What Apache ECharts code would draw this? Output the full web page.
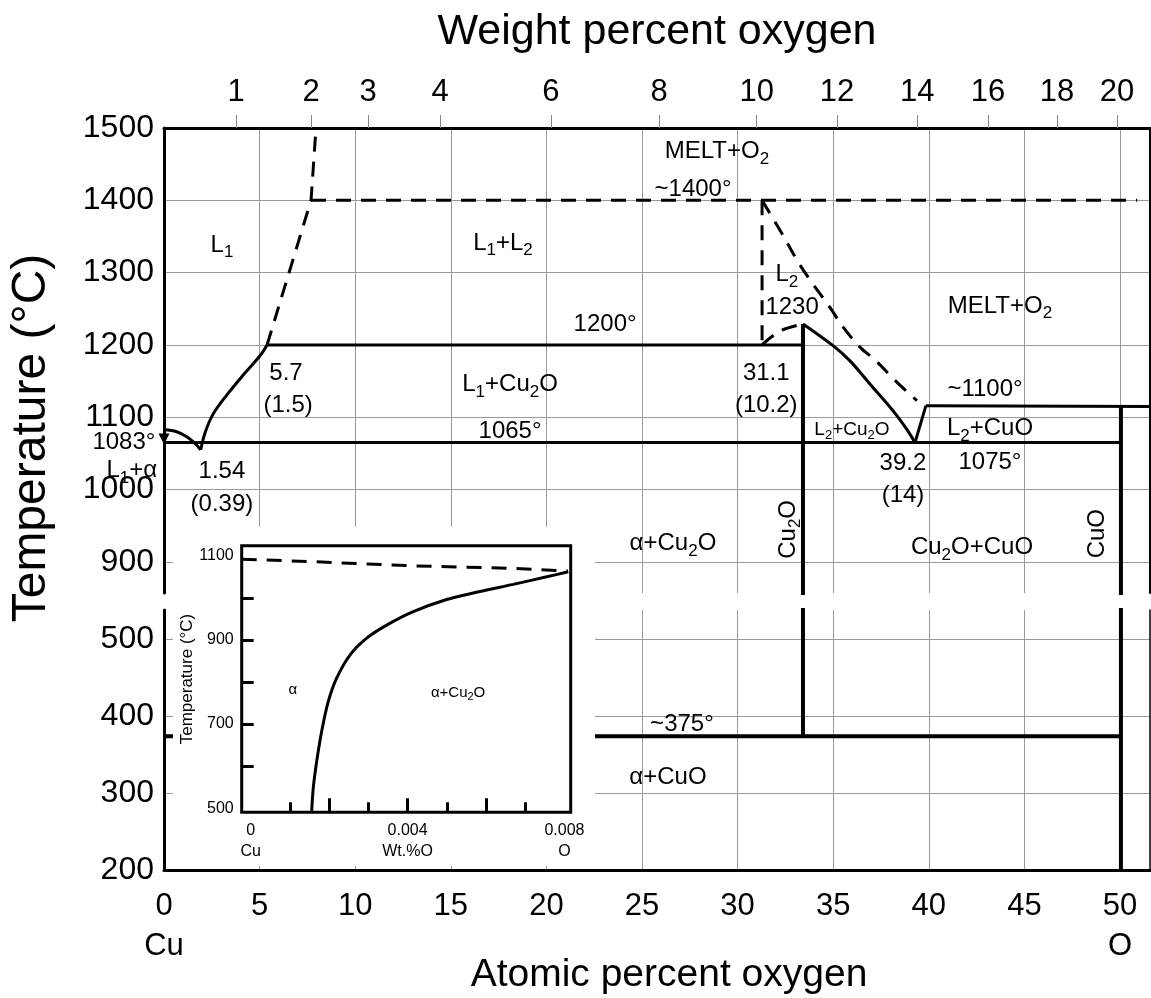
<!DOCTYPE html>
<html>
<head>
<meta charset="utf-8">
<script src="https://cdn.jsdelivr.net/npm/echarts@6/dist/echarts.min.js"></script>
<style>
  html, body { margin: 0; padding: 0; background: #fff; }
  #main { width: 1151px; height: 998px; }
</style>
</head>
<body>
<div id="main"></div>
<script>
// ---- axes ----
const atTicks = [0, 5, 10, 15, 20, 25, 30, 35, 40, 45, 50];
const wtLabels = ['1', '2', '3', '4', '6', '8', '10', '12', '14', '16', '18', '20'];
const wtPos = [3.77, 7.69, 10.67, 14.44, 20.24, 25.89, 31.0, 35.2, 39.4, 43.1, 46.7, 49.84]; // at.% where each wt.% tick sits
const tempTop = [900, 1000, 1100, 1200, 1300, 1400, 1500];
const tempBottom = [200, 300, 400, 500];

// ---- phase boundaries, [atomic % O, °C] ----
const liqCu = [[0, 1083], [0.66, 1080], [1.19, 1073], [1.62, 1064], [1.92, 1055]];
const liqL1 = [[1.92, 1055], [2.14, 1078], [2.56, 1104], [3.29, 1131], [4.13, 1158], [5.02, 1185], [5.39, 1200]];
const miscL1 = [[5.39, 1200], [7.69, 1400], [7.95, 1500]];
const mono1400 = [[7.69, 1400], [50.9, 1400]];
const line1200 = [[5.39, 1200], [33.42, 1200]];
const line1065 = [[0, 1065], [50.05, 1065]];
const miscL2left = [[31.28, 1400], [31.28, 1200]];
const liqL2 = [[31.28, 1200], [32.2, 1219], [33.42, 1229]];
const miscL2right = [[31.28, 1400], [32.32, 1354], [33.16, 1315], [33.84, 1288], [34.83, 1252],
  [35.51, 1225], [36.4, 1197], [37.24, 1178], [38.23, 1151], [39.38, 1123]];
const liqCu2O = [[33.42, 1229], [34.99, 1199], [35.88, 1178], [36.92, 1146], [38.13, 1109], [38.86, 1083], [39.28, 1065]];
const liqCuO = [[39.28, 1065], [39.85, 1116]];
const line1100 = [[39.85, 1116], [51.57, 1115]];
const cu2oLine = [[33.42, 1229], [33.42, 374]];
const cuoLine = [[50.05, 1116], [50.05, 200]];
const line375 = [[0, 374], [50.05, 374]];
const meltCu = [[0, 1070]];

// ---- labels [at.%, °C, text] ----
const notesTop = [
  [3.03, 1338, 'L_1'], [17.73, 1341, 'L_1+L_2'], [28.92, 1467, 'MELT+O_2'], [27.67, 1415, '~1400°'],
  [32.58, 1297, 'L_2'], [32.85, 1252, '1230'], [43.72, 1254, 'MELT+O_2'], [23.07, 1229, '1200°'],
  [6.38, 1161, '5.7'], [6.49, 1116, '(1.5)'], [18.1, 1145, 'L_1+Cu_2O'], [31.5, 1161, '31.1'],
  [31.5, 1117, '(10.2)'], [42.94, 1138, '~1100°'], [43.2, 1084, 'L_2+CuO'], [18.1, 1081, '1065°'],
  [43.2, 1038, '1075°'], [38.65, 1036, '39.2'], [38.65, 992, '(14)'], [3.03, 1025, '1.54'],
  [3.03, 980, '(0.39)'], [26.62, 925, 'α+Cu_2O'], [42.26, 920, 'Cu_2O+CuO']
];
const notesSmall = [[35.98, 1083, 'L_2+Cu_2O']];
const notesVertical = [[32.64, 945, 'Cu_2O'], [48.8, 939, 'CuO']];
const notesLeft = [[-0.45, 1065, '1083°'], [-0.36, 1026, 'L_1+α']];
const notesBottom = [[27.09, 389, '~375°'], [26.36, 320, 'α+CuO']];

// ---- inset, [wt.% O, °C] ----
const insetXLabels = [0, 0.004, 0.008];
const insetXNames = ['Cu', 'Wt.%O', 'O'];
const insetMajor = [0.002, 0.004, 0.006];
const insetMinor = [0.001, 0.003, 0.005, 0.007];
const insetYLabels = [500, 700, 900, 1100];
const insetYTicks = [600, 700, 800, 900, 1000];
const insetDashed = [[-0.00023, 1092], [0.00159, 1086], [0.00414, 1076], [0.00669, 1070], [0.00809, 1064]];
const insetSolid = [[0.001554, 490], [0.001594, 547], [0.001681, 610], [0.001809, 682], [0.001977, 753],
  [0.002191, 809], [0.002531, 864], [0.002957, 904], [0.003467, 935], [0.004145, 967], [0.004997, 996],
  [0.005847, 1015], [0.006696, 1032], [0.007548, 1050], [0.008099, 1062]];
const insetNotes = [[0.001077, 781, 'α'], [0.005288, 774, 'α+Cu_2O']];

const FONT = '"Liberation Sans", Arial, sans-serif';
const GRID_C = '#999';

function rt(s) {
  return ('{n|' + s.replace(/_(\d)/g, '}{s|$1}{n|') + '}').replace(/\{n\|\}/g, '');
}
function rich(size) {
  return {
    n: { fontSize: size, lineHeight: Math.round(size * 1.33), fontFamily: FONT, color: '#000', opacity: 1 },
    s: { fontSize: Math.round(size * 0.7), lineHeight: Math.round(size * 0.7), fontFamily: FONT, color: '#000',
      opacity: 1, verticalAlign: 'bottom' }
  };
}

function boundary(data, xi, yi, opts) {
  opts = opts || {};
  return {
    type: 'line', xAxisIndex: xi, yAxisIndex: yi, data: data,
    showSymbol: false, symbol: 'none', silent: true, animation: false,
    smooth: opts.smooth ? 0.35 : false,
    z: opts.z || 2,
    lineStyle: { color: '#000', width: opts.width || 3, type: opts.dashed ? [15, 10] : 'solid', cap: 'butt' }
  };
}

function notes(list, xi, yi, size, extra) {
  extra = extra || {};
  return {
    type: 'scatter', xAxisIndex: xi, yAxisIndex: yi, symbolSize: 0, silent: true, animation: false,
    clip: false, z: extra.z || 3,
    itemStyle: { opacity: 1 },
    data: list.map(d => ({ value: [d[0], d[1]], name: d[2] })),
    label: {
      show: true, position: extra.position || 'inside', distance: 0, rotate: extra.rotate || 0,
      color: '#000', opacity: 1, textBorderWidth: 0,
      formatter: p => rt(p.name), rich: rich(size)
    }
  };
}

const chart = echarts.init(document.getElementById('main'), null, { renderer: 'canvas' });

const hidden = { show: false };
const option = {
  backgroundColor: '#fff',
  animation: false,
  textStyle: { fontFamily: FONT },
  grid: [
    { left: 164, top: 128, width: 986, height: 465, outerBoundsMode: 'none', containLabel: false },
    { left: 164, top: 610, width: 986, height: 260, outerBoundsMode: 'none', containLabel: false },
    { left: 241.7, top: 545.7, width: 329, height: 266.6, show: true, backgroundColor: '#fff',
      borderColor: '#000', borderWidth: 3, z: 10, outerBoundsMode: 'none', containLabel: false }
  ],
  xAxis: [
    { // weight percent (top)
      type: 'value', gridIndex: 0, position: 'top', min: 0, max: 51.57,
      axisLine: { show: true, onZero: false, lineStyle: { color: '#000', width: 3 } },
      axisTick: { show: true, customValues: wtPos, length: 13, lineStyle: { color: '#888', width: 1 } },
      axisLabel: { customValues: wtPos, margin: 20, fontSize: 31, color: '#000', fontFamily: FONT,
        formatter: v => wtLabels[wtPos.indexOf(v)] || '' },
      splitLine: hidden,
      name: 'Weight percent oxygen', nameLocation: 'middle', nameGap: 74,
      nameTextStyle: { fontSize: 43, color: '#000', fontFamily: FONT }
    },
    { // grid lines of top panel
      type: 'value', gridIndex: 0, position: 'bottom', min: 0, max: 51.57,
      axisLine: { show: false, onZero: false },
      axisTick: { show: false, customValues: atTicks }, axisLabel: hidden,
      splitLine: { show: true, lineStyle: { color: GRID_C, width: 1 } }
    },
    { // atomic percent (bottom)
      type: 'value', gridIndex: 1, position: 'bottom', min: 0, max: 51.57,
      axisLine: { show: true, onZero: false, lineStyle: { color: '#000', width: 3 } },
      axisTick: { show: false, customValues: atTicks },
      axisLabel: { customValues: atTicks, margin: 16, fontSize: 31, lineHeight: 40, color: '#000', fontFamily: FONT,
        formatter: v => v === 0 ? '0\nCu' : (v === 50 ? '50\nO' : String(v)) },
      splitLine: { show: true, lineStyle: { color: GRID_C, width: 1 } },
      name: 'Atomic percent oxygen', nameLocation: 'middle', nameGap: 84,
      nameTextStyle: { fontSize: 39, color: '#000', fontFamily: FONT, verticalAlign: 'middle',
        lineHeight: 40, padding: [0, 0, 0, 24] }
    },
    { // inset, long ticks + labels
      type: 'value', gridIndex: 2, position: 'bottom', min: -0.00023, max: 0.00816, z: 11,
      axisLine: { show: false, onZero: false },
      axisTick: { show: true, inside: true, customValues: insetMajor, length: 14, lineStyle: { color: '#000', width: 3 } },
      axisLabel: { customValues: insetXLabels, margin: 8, fontSize: 16, lineHeight: 21, color: '#000', fontFamily: FONT,
        formatter: v => { const i = insetXLabels.indexOf(v); return i < 0 ? '' : (String(v) + '\n' + insetXNames[i]); } },
      splitLine: hidden
    },
    { // inset, short ticks
      type: 'value', gridIndex: 2, position: 'bottom', min: -0.00023, max: 0.00816, z: 11,
      axisLine: { show: false, onZero: false },
      axisTick: { show: true, inside: true, customValues: insetMinor, length: 10, lineStyle: { color: '#000', width: 3 } },
      axisLabel: hidden, splitLine: hidden
    }
  ],
  yAxis: [
    {
      type: 'value', gridIndex: 0, position: 'left', min: 857, max: 1500,
      axisLine: { show: true, onZero: false, lineStyle: { color: '#000', width: 3 } },
      axisTick: { show: false, customValues: tempTop },
      axisLabel: { customValues: tempTop, margin: 10, fontSize: 32, color: '#000', fontFamily: FONT, formatter: v => String(v) },
      splitLine: { show: true, lineStyle: { color: GRID_C, width: 1 } }
    },
    {
      type: 'value', gridIndex: 0, position: 'right', min: 857, max: 1500,
      axisLine: { show: true, onZero: false, lineStyle: { color: '#000', width: 2 } },
      axisTick: hidden, axisLabel: hidden, splitLine: hidden
    },
    {
      type: 'value', gridIndex: 1, position: 'left', min: 200, max: 538,
      axisLine: { show: true, onZero: false, lineStyle: { color: '#000', width: 3 } },
      axisTick: { show: false, customValues: tempBottom },
      axisLabel: { customValues: tempBottom, margin: 10, fontSize: 32, color: '#000', fontFamily: FONT, formatter: v => String(v) },
      splitLine: { show: true, lineStyle: { color: GRID_C, width: 1 } }
    },
    {
      type: 'value', gridIndex: 1, position: 'right', min: 200, max: 538,
      axisLine: { show: true, onZero: false, lineStyle: { color: '#000', width: 1.5 } },
      axisTick: hidden, axisLabel: hidden, splitLine: hidden
    },
    {
      type: 'value', gridIndex: 2, position: 'left', min: 490, max: 1124, z: 11,
      axisLine: { show: false, onZero: false },
      axisTick: { show: true, inside: true, customValues: insetYTicks, length: 12, lineStyle: { color: '#000', width: 3 } },
      axisLabel: { customValues: insetYLabels, margin: 8, fontSize: 16, color: '#000', fontFamily: FONT, formatter: v => String(v) },
      splitLine: hidden,
      name: 'Temperature (°C)', nameLocation: 'middle', nameGap: 33,
      nameTextStyle: { fontSize: 17, color: '#000', fontFamily: FONT }
    }
  ],
  graphic: {
    elements: [
      { // blank area behind the inset
        type: 'rect', z: 5, silent: true,
        shape: { x: 173, y: 527, width: 422, height: 339 },
        style: { fill: '#fff' }
      },
      {
        type: 'text', z: 5, silent: true, x: 32, y: 438, rotation: Math.PI / 2,
        style: { text: 'Temperature (°C)', fontSize: 48, fontFamily: FONT, fill: '#000',
          align: 'center', verticalAlign: 'middle' }
      },
      {
        type: 'text', z: 5, silent: true, x: 669, y: 975,
        style: { text: 'Atomic percent oxygen', fontSize: 39, fontFamily: FONT, fill: '#000',
          align: 'center', verticalAlign: 'middle' }
      }
    ]
  },
  series: [
    // top panel
    boundary(liqCu, 1, 0, { smooth: true }),
    boundary(liqL1, 1, 0, { smooth: true }),
    boundary(miscL1, 1, 0, { dashed: true }),
    boundary(mono1400, 1, 0, { dashed: true }),
    boundary(line1200, 1, 0),
    boundary(line1065, 1, 0),
    boundary(miscL2left, 1, 0, { dashed: true }),
    boundary(liqL2, 1, 0, { dashed: true, smooth: true }),
    boundary(miscL2right, 1, 0, { dashed: true, smooth: true }),
    boundary(liqCu2O, 1, 0, { smooth: true }),
    boundary(liqCuO, 1, 0),
    boundary(line1100, 1, 0),
    boundary(cu2oLine, 1, 0, { width: 4 }),
    boundary(cuoLine, 1, 0, { width: 4 }),
    {
      type: 'scatter', xAxisIndex: 1, yAxisIndex: 0, data: meltCu, clip: false, silent: true,
      symbol: 'triangle', symbolRotate: 180, symbolSize: 11, itemStyle: { color: '#000', opacity: 1 }, z: 4
    },
    // bottom panel
    boundary(cu2oLine, 2, 2, { width: 4 }),
    boundary(cuoLine, 2, 2, { width: 4 }),
    boundary(line375, 2, 2, { width: 4 }),
    // labels
    notes(notesTop, 1, 0, 24),
    notes(notesSmall, 1, 0, 19),
    notes(notesVertical, 1, 0, 24, { rotate: 90 }),
    notes(notesLeft, 1, 0, 24, { position: 'left' }),
    notes(notesBottom, 2, 2, 24),
    // inset
    boundary(insetDashed, 3, 4, { dashed: true, width: 3, z: 12 }),
    boundary(insetSolid, 3, 4, { smooth: true, width: 3, z: 12 }),
    notes(insetNotes, 3, 4, 15, { z: 13 })
  ]
};

// the bottom axis title is drawn as a graphic text so that it sits where the original has it
option.xAxis[2].name = '';

chart.setOption(option);
</script>
</body>
</html>
